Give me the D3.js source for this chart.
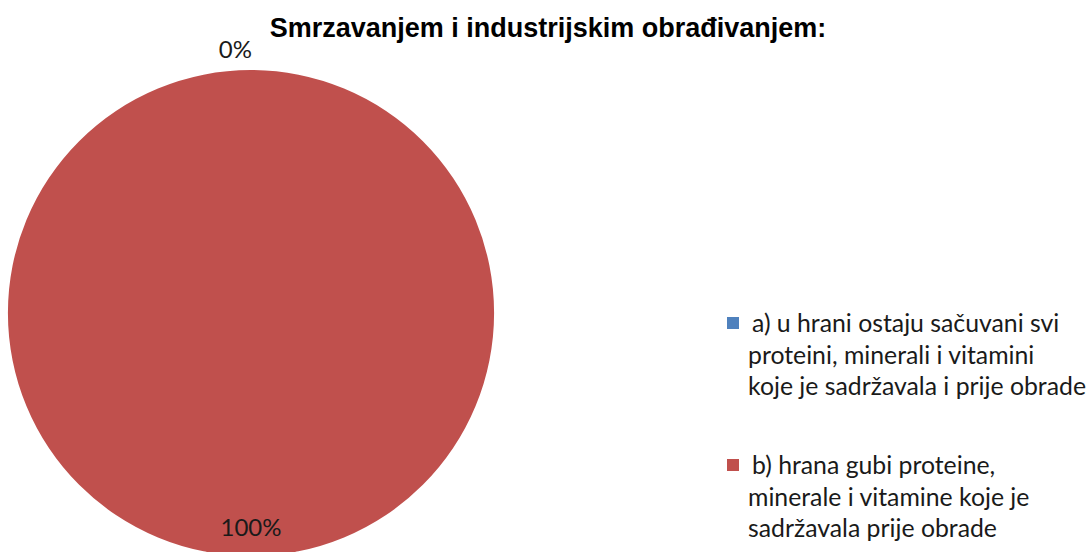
<!DOCTYPE html>
<html>
<head>
<meta charset="utf-8">
<script src="https://cdn.jsdelivr.net/npm/d3@7"></script>
<style>
  html, body { margin: 0; padding: 0; background: #fff; }
  svg { display: block; }
</style>
</head>
<body>
<svg id="chart" width="1091" height="552"></svg>
<script>
// Survey answers and their shares (percent)
const title = "Smrzavanjem i industrijskim obrađivanjem:";
const categories = [
  "a) u hrani ostaju sačuvani svi proteini, minerali i vitamini koje je sadržavala i prije obrade",
  "b) hrana gubi proteine, minerale i vitamine koje je sadržavala prije obrade"
];
const legendLines = [
  ["a) u hrani ostaju sačuvani svi", "proteini, minerali i vitamini", "koje je sadržavala i prije obrade"],
  ["b) hrana gubi proteine,", "minerale i vitamine koje je", "sadržavala prije obrade"]
];
const values = [0, 100];
const colors = ["#4F81BD", "#C0504D"];

const svg = d3.select("#chart");
const cx = 251, cy = 313, R = 243;

const color = d3.scaleOrdinal().domain(categories).range(colors);
const data = categories.map((c, i) => ({ name: c, value: values[i], lines: legendLines[i] }));

const pie = d3.pie().sort(null).value(d => d.value);
const arcs = pie(data);
const arc = d3.arc().innerRadius(0).outerRadius(R);

const g = svg.append("g").attr("transform", `translate(${cx},${cy})`);

g.selectAll("path.slice")
  .data(arcs)
  .join("path")
  .attr("class", "slice")
  .attr("d", arc)
  .attr("fill", d => color(d.data.name));

// Percentage labels: empty slices sit just outside the rim, others inside
const total = d3.sum(values);
const fmt = d => Math.round(d.data.value / total * 100) + "%";
const insideArc = d3.arc().innerRadius(R * 0.885).outerRadius(R * 0.885);
const outsideArc = d3.arc().innerRadius(R + 20).outerRadius(R + 20);

g.selectAll("text.pct")
  .data(arcs)
  .join("text")
  .attr("class", "pct")
  .attr("transform", d => {
    const a = d.data.value === 0 ? outsideArc : insideArc;
    const [x, y] = a.centroid(d);
    return `translate(${x},${y})`;
  })
  .attr("text-anchor", d => d.data.value === 0 ? "end" : "middle")
  .attr("dx", d => d.data.value === 0 ? 1 : 0)
  .attr("dy", "0.35em")
  .attr("font-family", "Lato, 'Open Sans', sans-serif")
  .attr("font-size", 24)
  .attr("fill", "#1a1a1a")
  .text(fmt);

// Title
svg.append("text")
  .attr("x", 548)
  .attr("y", 37)
  .attr("text-anchor", "middle")
  .attr("font-family", "'Liberation Sans', Arial, sans-serif")
  .attr("font-weight", "bold")
  .attr("font-size", 27)
  .attr("fill", "#000")
  .text(title);

// Legend
const legend = svg.append("g").attr("transform", "translate(727,317)");
const itemGap = 142;
const lineH = 31.5;
const item = legend.selectAll("g.item")
  .data(data)
  .join("g")
  .attr("class", "item")
  .attr("transform", (d, i) => `translate(0,${i * itemGap})`);

item.append("rect")
  .attr("width", 12)
  .attr("height", 12)
  .attr("fill", d => color(d.name));

item.append("text")
  .attr("font-family", "Lato, 'Open Sans', sans-serif")
  .attr("font-size", 24.8)
  .attr("fill", "#1a1a1a")
  .selectAll("tspan")
  .data(d => d.lines)
  .join("tspan")
  .attr("x", (d, i) => i === 0 ? 25 : 21)
  .attr("y", (d, i) => 15 + i * lineH)
  .text(d => d);
</script>
</body>
</html>
